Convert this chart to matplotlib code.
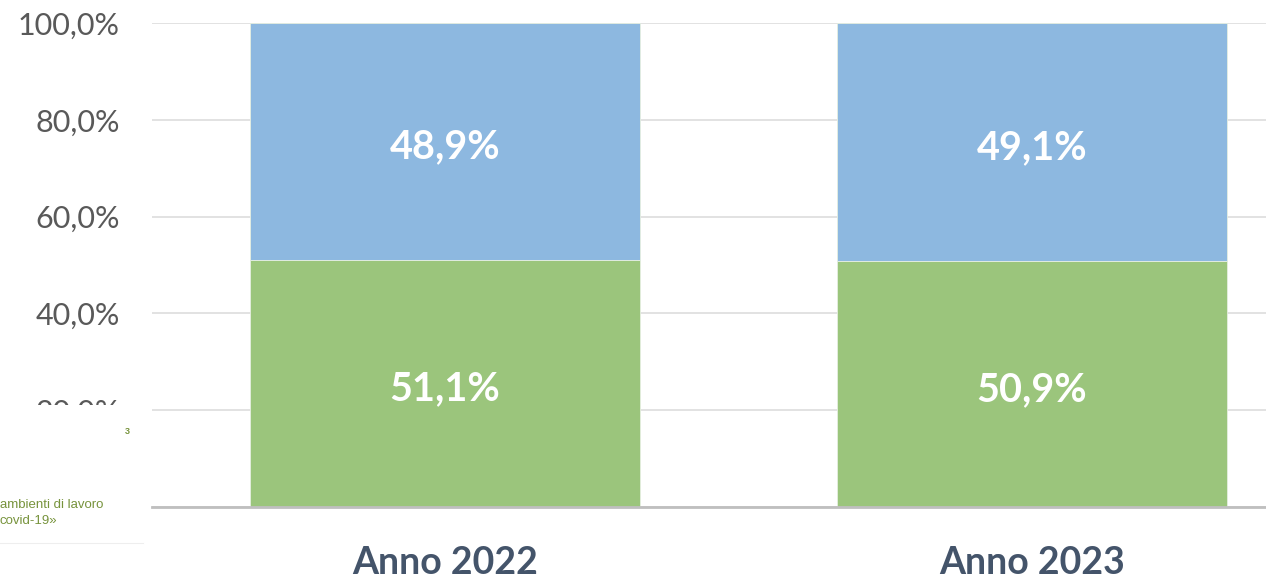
import matplotlib.pyplot as plt
from matplotlib.patches import Rectangle
from matplotlib.lines import Line2D

categories = ['Anno 2022', 'Anno 2023']
green_vals = [51.1, 50.9]
blue_vals = [48.9, 49.1]
y_ticks = [0, 20, 40, 60, 80, 100]

green = '#9BC57C'
blue = '#8DB8E0'
font = 'Lato'

fig = plt.figure(figsize=(12.66, 5.78), dpi=100)
ax = fig.add_axes([151.5 / 1266, 71 / 578, 1174 / 1266, 484 / 578])

x = range(len(categories))
ax.bar(x, green_vals, width=0.666, color=green, edgecolor='#E6EFE0', linewidth=0.6, zorder=2)
ax.bar(x, blue_vals, bottom=green_vals, width=0.666, color=blue, edgecolor='#E6EFE0', linewidth=0.6, zorder=2)

# labels in the middle of each segment (nudged down a little like the original)
for i in x:
    ax.text(i, green_vals[i] / 2 - 1.2, f'{green_vals[i]:.1f}%'.replace('.', ','),
            ha='center', va='center', color='white', fontsize=28.5, fontweight='bold', family=font, zorder=3)
    ax.text(i, green_vals[i] + blue_vals[i] / 2 - 1.2, f'{blue_vals[i]:.1f}%'.replace('.', ','),
            ha='center', va='center', color='white', fontsize=28.5, fontweight='bold', family=font, zorder=3)

ax.set_xlim(-0.5, 1.5)
ax.set_ylim(0, 100)
ax.set_yticks(y_ticks)
# the 0,0% label sits under the white box in the original, so leave it blank
ylabels = ['' if v == 0 else f'{v:.1f}%'.replace('.', ',') for v in y_ticks]
ax.set_yticklabels(ylabels, fontsize=22, color='#595959', family=font)
ax.set_xticks(list(x))
ax.set_xticklabels(categories, fontsize=27, fontweight='bold', color='#44546A', family=font)
ax.tick_params(axis='y', length=0, pad=23)
ax.tick_params(axis='x', length=0, pad=28)
ax.grid(axis='y', color='#DDDDDD', linewidth=1.2, zorder=0)
ax.set_axisbelow(True)
for s in ['top', 'left', 'right']:
    ax.spines[s].set_visible(False)
ax.spines['bottom'].set_color('#BFBFBF')
ax.spines['bottom'].set_linewidth(2)

# white box covering the lower left labels, with stray text on it
fig.patches.append(Rectangle((0, 0), 146 / 1266, 173 / 578, transform=fig.transFigure,
                             facecolor='white', edgecolor='none', zorder=10))
fig.lines.append(Line2D([0, 143 / 1266], [35 / 578, 35 / 578], transform=fig.transFigure,
                        color='#EEEEEE', linewidth=0.8, zorder=11))
fig.text(127 / 1266, 1 - 431 / 578, '3', fontsize=6.5, fontweight='bold', color='#77933C',
         family='Liberation Sans', ha='center', va='center', zorder=12)
fig.text(0, 1 - 505 / 578, 'ambienti di lavoro', fontsize=9.5, color='#77933C',
         family='Liberation Sans', ha='left', va='center', zorder=12)
fig.text(0, 1 - 521 / 578, 'covid-19»', fontsize=9.5, color='#77933C',
         family='Liberation Sans', ha='left', va='center', zorder=12)

fig.savefig('out.png', dpi=100)
